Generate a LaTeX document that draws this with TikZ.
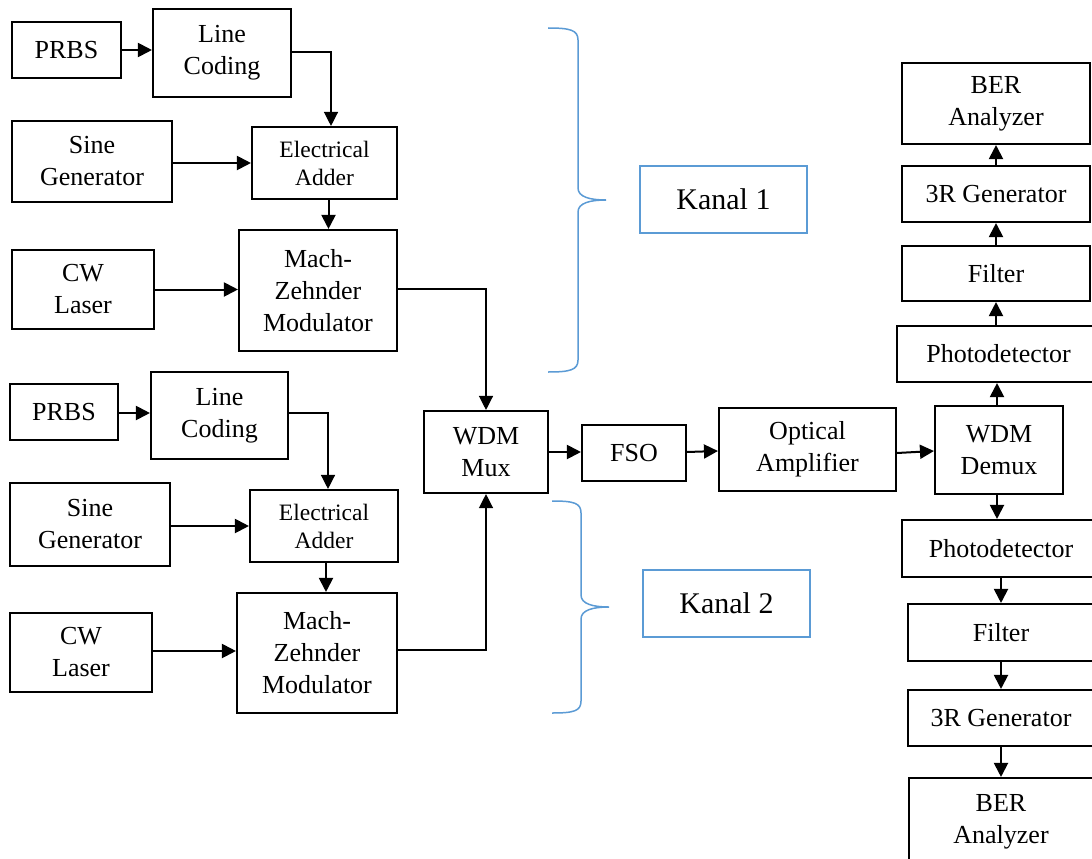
\documentclass[tikz,border=0pt]{standalone}
\usepackage{fontspec}
\setmainfont{Liberation Serif}
\usetikzlibrary{arrows.meta}
\definecolor{braceblue}{HTML}{5B9BD5}
\begin{document}
\begin{tikzpicture}[x=1pt,y=-1pt,
  box/.style={draw=black,line width=2.1pt,inner sep=0pt,align=center,font=\fontsize{26}{32}\selectfont},
  smallbox/.style={box,font=\fontsize{23.5}{28}\selectfont},
  kanal/.style={draw=braceblue,line width=1.8pt,inner sep=0pt,font=\fontsize{30}{36}\selectfont},
  arr/.style={line width=2pt,-{Triangle[length=14pt,width=14pt]}},
  thinarr/.style={line width=1.3pt,-{Triangle[length=14pt,width=14pt]}},
  brace/.style={draw=braceblue,line width=1.5pt}]
\useasboundingbox (0,0) rectangle (1092,859);
\clip (0,0) rectangle (1092,859);
\fill[white] (0,0) rectangle (1092,859);
% top group
\node[box,minimum width=109,minimum height=56] (prbs1) at (66.5,50) {PRBS};
\node[box,minimum width=138,minimum height=88] (lc1) at (222,53) {Line\\Coding};
\node[box,minimum width=160,minimum height=81] (sine1) at (92,161.5) {Sine\\Generator};
\node[smallbox,minimum width=145,minimum height=72] (add1) at (324.5,163) {Electrical\\Adder};
\node[box,minimum width=142,minimum height=79] (cw1) at (83,289.5) {CW\\Laser};
\node[box,minimum width=158,minimum height=121] (mzm1) at (318,290.5) {Mach-\\Zehnder\\Modulator};
% bottom group
\node[box,minimum width=108,minimum height=56] (prbs2) at (64,412) {PRBS};
\node[box,minimum width=137,minimum height=87] (lc2) at (219.5,415.5) {Line\\Coding};
\node[box,minimum width=160,minimum height=83] (sine2) at (90,524.5) {Sine\\Generator};
\node[smallbox,minimum width=148,minimum height=72] (add2) at (324,526) {Electrical\\Adder};
\node[box,minimum width=142,minimum height=79] (cw2) at (81,652.5) {CW\\Laser};
\node[box,minimum width=160,minimum height=120] (mzm2) at (317,653) {Mach-\\Zehnder\\Modulator};
% middle
\node[box,minimum width=124,minimum height=82] (mux) at (486,452) {WDM\\Mux};
\node[box,minimum width=104,minimum height=56] (fso) at (634,453) {FSO};
\node[box,minimum width=177,minimum height=83] (amp) at (807.5,449.5) {Optical\\Amplifier};
\node[box,minimum width=128,minimum height=88] (demux) at (999,450) {WDM\\Demux};
% right top
\node[box,minimum width=188,minimum height=81] (ber1) at (996,103.5) {BER\\Analyzer};
\node[box,minimum width=188,minimum height=56] (gen1) at (996,194) {3R Generator};
\node[box,minimum width=188,minimum height=55] (filt1) at (996,273.5) {Filter};
\node[box,minimum width=203,minimum height=56] (pd1) at (998.5,354) {Photodetector};
% right bottom
\node[box,minimum width=198,minimum height=57] (pd2) at (1001,548.5) {Photodetector};
\node[box,minimum width=186,minimum height=57] (filt2) at (1001,632.5) {Filter};
\node[box,minimum width=186,minimum height=56] (gen2) at (1001,718) {3R Generator};
\node[box,minimum width=184,minimum height=88] (ber2) at (1001,822) {BER\\Analyzer};
% kanal labels
\node[kanal,minimum width=167,minimum height=67] (k1) at (723.5,199.5) {Kanal 1};
\node[kanal,minimum width=167,minimum height=67] (k2) at (726.5,603.5) {Kanal 2};
% braces
\draw[brace] (548,28) .. controls (570,28) and (578,30) .. (578,40) -- (578,188)
  .. controls (578,197) and (590,200) .. (606,200)
  .. controls (590,200) and (578,203) .. (578,212) -- (578,360)
  .. controls (578,370) and (570,372) .. (548,372);
\draw[brace] (552,501) .. controls (574,501) and (581,503) .. (581,513) -- (581,595)
  .. controls (581,604) and (593,607) .. (609,607)
  .. controls (593,607) and (581,610) .. (581,619) -- (581,701)
  .. controls (581,711) and (574,713) .. (552,713);
% connectors top group
\draw[arr] (prbs1.east) -- (prbs1.east -| lc1.west);
\draw[thinarr] (lc1.east |- 0,52) -| ([xshift=6.5pt]add1.north);
\draw[arr] (sine1.east |- add1.west) -- (add1.west);
\draw[arr] ([xshift=4pt]add1.south) -- ([xshift=4pt]add1.south |- mzm1.north);
\draw[arr] (cw1.east) -- (cw1.east -| mzm1.west);
\draw[thinarr] (mzm1.east |- 0,289) -| (mux.north);
% connectors bottom group
\draw[arr] (prbs2.east |- 0,413) -- (lc2.west |- 0,413);
\draw[thinarr] (lc2.east |- 0,413) -| ([xshift=4pt]add2.north);
\draw[arr] (sine2.east |- add2.west) -- (add2.west);
\draw[arr] ([xshift=2pt]add2.south) -- ([xshift=2pt]add2.south |- mzm2.north);
\draw[arr] (cw2.east |- 0,651) -- (mzm2.west |- 0,651);
\draw[thinarr] (mzm2.east |- 0,650) -| (mux.south);
% middle chain
\draw[arr] (mux.east) -- (mux.east -| fso.west);
\draw[arr] (fso.east |- 0,452) -- (amp.west |- 0,451);
\draw[arr] (amp.east |- 0,453) -- (demux.west |- 0,451);
% right top column
\draw[arr] ([xshift=-2pt]demux.north) -- ([xshift=-2pt]demux.north |- pd1.south);
\draw[arr] (pd1.north -| gen1.south) -- (filt1.south);
\draw[arr] (filt1.north) -- (gen1.south);
\draw[arr] (gen1.north) -- (ber1.south);
% right bottom column
\draw[arr] ([xshift=-2pt]demux.south) -- ([xshift=-2pt]demux.south |- pd2.north);
\draw[arr] (pd2.south) -- (filt2.north);
\draw[arr] (filt2.south) -- (gen2.north);
\draw[arr] (gen2.south) -- (ber2.north);
\end{tikzpicture}
\end{document}
